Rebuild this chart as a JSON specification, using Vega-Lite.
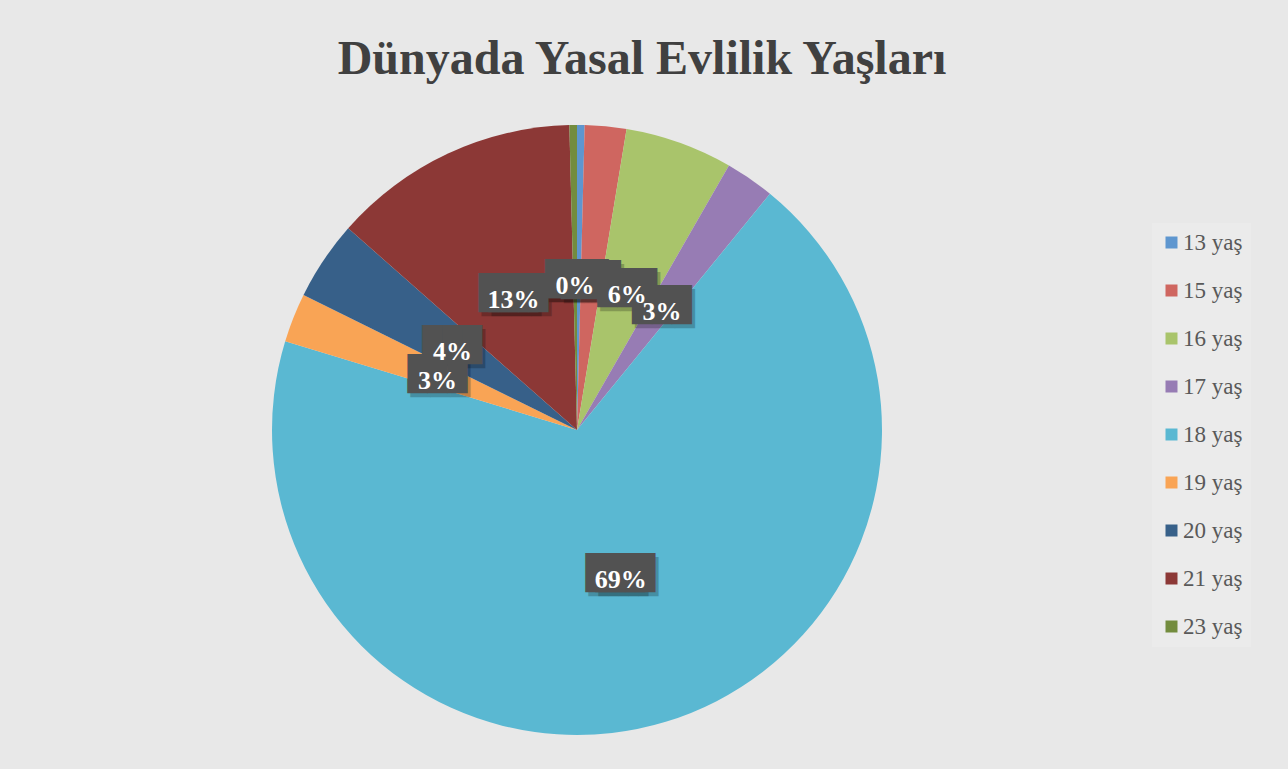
{
  "$schema": "https://vega.github.io/schema/vega-lite/v6.json",
  "width": 1154,
  "height": 670,
  "autosize": {"type": "none"},
  "padding": {"left": 0, "top": 95, "right": 134, "bottom": 4},
  "background": "#e8e8e8",
  "title": {
    "text": "Dünyada Yasal Evlilik Yaşları",
    "font": "Liberation Serif",
    "fontSize": 48,
    "fontWeight": "bold",
    "color": "#404040",
    "anchor": "middle",
    "dx": 65,
    "baseline": "alphabetic",
    "offset": -27
  },
  "config": {"view": {"stroke": null}},
  "data": {
    "values": [
      {"age": "13 yaş", "share": 0.004},
      {"age": "15 yaş", "share": 0.022},
      {"age": "16 yaş", "share": 0.057},
      {"age": "17 yaş", "share": 0.026},
      {"age": "18 yaş", "share": 0.688},
      {"age": "19 yaş", "share": 0.026},
      {"age": "20 yaş", "share": 0.042},
      {"age": "21 yaş", "share": 0.131},
      {"age": "23 yaş", "share": 0.004}
    ]
  },
  "layer": [
    {
      "mark": {"type": "arc", "outerRadius": 305},
      "encoding": {
        "theta": {"field": "share", "type": "quantitative", "stack": true},
        "order": {"field": "age"},
        "color": {
          "field": "age",
          "type": "nominal",
          "scale": {
            "domain": ["13 yaş", "15 yaş", "16 yaş", "17 yaş", "18 yaş", "19 yaş", "20 yaş", "21 yaş", "23 yaş"],
            "range": ["#5e96cf", "#cf6660", "#a9c46b", "#977cb4", "#5ab8d2", "#f9a455", "#376089", "#8c3836", "#738c3e"]
          },
          "legend": {
            "orient": "none",
            "legendX": 1152,
            "legendY": 128,
            "title": null,
            "symbolType": "square",
            "symbolSize": 144,
            "symbolStrokeWidth": 0,
            "labelFont": "Liberation Serif",
            "labelFontSize": 23,
            "labelColor": "#595959",
            "labelOffset": 0,
            "rowPadding": 24,
            "padding": 8,
            "fillColor": "#ebebeb"
          }
        }
      }
    },
    {
      "mark": {"type": "text", "radius": 150, "font": "DejaVu Sans Mono", "fontSize": 33, "text": "███", "color": "#000000", "baseline": "middle", "align": "center", "dx": 3, "dy": 4},
      "encoding": {
        "theta": {"field": "share", "type": "quantitative", "stack": true},
        "order": {"field": "age"},
        "opacity": {"condition": {"test": "datum.share < 0.095", "value": 0.22}, "value": 0}
      }
    },
    {
      "mark": {"type": "text", "radius": 150, "font": "DejaVu Sans Mono", "fontSize": 33, "text": "███", "color": "#000000", "baseline": "middle", "align": "center", "dx": -2, "dy": 4},
      "encoding": {
        "theta": {"field": "share", "type": "quantitative", "stack": true},
        "order": {"field": "age"},
        "opacity": {"condition": {"test": "datum.share >= 0.095", "value": 0.22}, "value": 0}
      }
    },
    {
      "mark": {"type": "text", "radius": 150, "font": "DejaVu Sans Mono", "fontSize": 33, "text": "███", "color": "#000000", "baseline": "middle", "align": "center", "dx": 8, "dy": 4},
      "encoding": {
        "theta": {"field": "share", "type": "quantitative", "stack": true},
        "order": {"field": "age"},
        "opacity": {"condition": {"test": "datum.share >= 0.095", "value": 0.22}, "value": 0}
      }
    },
    {
      "mark": {"type": "text", "radius": 150, "font": "DejaVu Sans Mono", "fontSize": 33, "text": "███", "color": "#525252", "baseline": "middle", "align": "center"},
      "encoding": {
        "theta": {"field": "share", "type": "quantitative", "stack": true},
        "order": {"field": "age"},
        "opacity": {"condition": {"test": "indexof(['13 yaş','15 yaş'], datum.age) >= 0", "value": 1}, "value": 0}
      }
    },
    {
      "mark": {"type": "text", "radius": 150, "font": "Liberation Serif", "fontWeight": "bold", "fontSize": 26, "color": "white", "baseline": "middle", "align": "center", "dy": 6},
      "encoding": {
        "theta": {"field": "share", "type": "quantitative", "stack": true},
        "order": {"field": "age"},
        "text": {"field": "share", "type": "quantitative", "format": ".0%"},
        "opacity": {"condition": {"test": "indexof(['13 yaş','15 yaş'], datum.age) >= 0", "value": 1}, "value": 0}
      }
    },
    {
      "mark": {"type": "text", "radius": 150, "font": "DejaVu Sans Mono", "fontSize": 33, "text": "███", "color": "#525252", "baseline": "middle", "align": "center"},
      "encoding": {
        "theta": {"field": "share", "type": "quantitative", "stack": true},
        "order": {"field": "age"},
        "opacity": {"condition": {"test": "indexof(['13 yaş','15 yaş'], datum.age) < 0 && datum.share < 0.095", "value": 1}, "value": 0}
      }
    },
    {
      "mark": {"type": "text", "radius": 150, "font": "DejaVu Sans Mono", "fontSize": 33, "text": "███", "color": "#525252", "baseline": "middle", "align": "center", "dx": -5},
      "encoding": {
        "theta": {"field": "share", "type": "quantitative", "stack": true},
        "order": {"field": "age"},
        "opacity": {"condition": {"test": "datum.share >= 0.095", "value": 1}, "value": 0}
      }
    },
    {
      "mark": {"type": "text", "radius": 150, "font": "DejaVu Sans Mono", "fontSize": 33, "text": "███", "color": "#525252", "baseline": "middle", "align": "center", "dx": 5},
      "encoding": {
        "theta": {"field": "share", "type": "quantitative", "stack": true},
        "order": {"field": "age"},
        "opacity": {"condition": {"test": "datum.share >= 0.095", "value": 1}, "value": 0}
      }
    },
    {
      "mark": {"type": "text", "radius": 150, "font": "Liberation Serif", "fontWeight": "bold", "fontSize": 26, "color": "white", "baseline": "middle", "align": "center", "dy": 6},
      "encoding": {
        "theta": {"field": "share", "type": "quantitative", "stack": true},
        "order": {"field": "age"},
        "text": {"field": "share", "type": "quantitative", "format": ".0%"},
        "opacity": {"condition": {"test": "indexof(['13 yaş','15 yaş'], datum.age) < 0", "value": 1}, "value": 0}
      }
    }
  ]
}
